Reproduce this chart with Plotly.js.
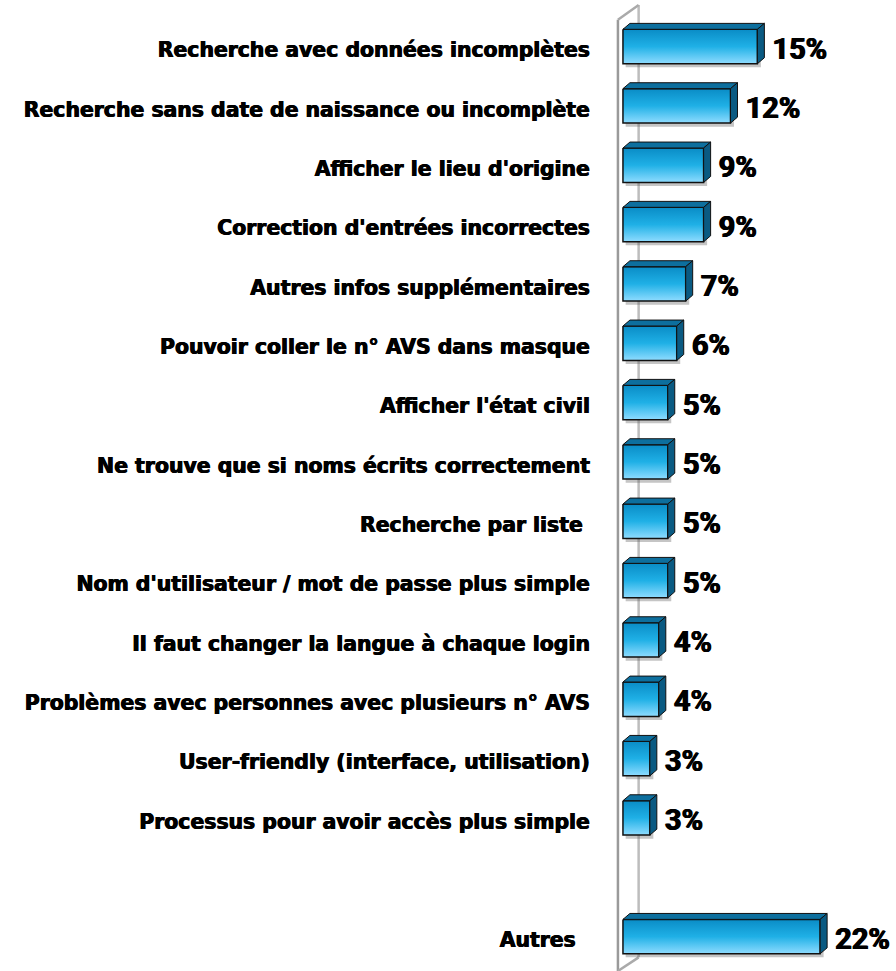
<!DOCTYPE html>
<html>
<head>
<meta charset="utf-8">
<script src="https://cdn.plot.ly/plotly-3.0.1.min.js"></script>
<style>html,body{margin:0;padding:0;background:#fff;}#chart{width:896px;height:971px;}</style>
</head>
<body>
<div id="chart"></div>
<script>
// ---- data ----
const categories = [
  "Recherche avec données incomplètes",
  "Recherche sans date de naissance ou incomplète",
  "Afficher le lieu d'origine",
  "Correction d'entrées incorrectes",
  "Autres infos supplémentaires",
  "Pouvoir coller le n° AVS dans masque",
  "Afficher l'état civil",
  "Ne trouve que si noms écrits correctement",
  "Recherche par liste",
  "Nom d'utilisateur / mot de passe plus simple",
  "Il faut changer la langue à chaque login",
  "Problèmes avec personnes avec plusieurs n° AVS",
  "User-friendly (interface, utilisation)",
  "Processus pour avoir accès plus simple",
  "Autres"
];
const values = [15, 12, 9, 9, 7, 6, 5, 5, 5, 5, 4, 4, 3, 3, 22];
const valueLabels = values.map(v => v + "%");

// ---- styling constants ----
const H = 0.29;     // half bar height (category units)
const DX = 0.78;    // 3D depth along x (value units)
const DY = 0.10;    // 3D depth along y (category units)
// row position: "Autres" is separated from the others by one empty row
const rows = categories.map((c, i) => (c === "Autres" ? i + 1 : i));

const traces = [];

// shadow
{
  const xs = [], ys = [];
  values.forEach((v, i) => {
    const y = rows[i];
    xs.push(0.3, v + DX * 0.5, v + DX * 0.5, 0.3, 0.3, null);
    ys.push(y - H + 0.06, y - H + 0.06, y + H + 0.06, y + H + 0.06, y - H + 0.06, null);
  });
  traces.push({type: "scatter", mode: "lines", x: xs, y: ys, fill: "toself",
    fillcolor: "rgba(90,90,90,0.35)", line: {width: 0}, hoverinfo: "skip", showlegend: false});
}

// front faces with vertical gradient
values.forEach((v, i) => {
  const y = rows[i];
  traces.push({
    type: "scatter", mode: "lines",
    x: [0, v, v, 0, 0],
    y: [y - H, y - H, y + H, y + H, y - H],
    fill: "toself",
    fillgradient: {type: "vertical", start: y - H, stop: y + H,
      colorscale: [[0, "#0a8cc6"], [0.5, "#1fb0e6"], [1, "#8fdcff"]]},
    line: {color: "#111", width: 1.5},
    hoverinfo: "skip", showlegend: false
  });
});

// top faces
{
  const xs = [], ys = [];
  values.forEach((v, i) => {
    const y = rows[i];
    xs.push(0, v, v + DX, DX, 0, null);
    ys.push(y - H, y - H, y - H - DY, y - H - DY, y - H, null);
  });
  traces.push({type: "scatter", mode: "lines", x: xs, y: ys, fill: "toself",
    fillcolor: "#0d6f9e", line: {color: "#111", width: 1}, hoverinfo: "skip", showlegend: false});
}
// side faces
{
  const xs = [], ys = [];
  values.forEach((v, i) => {
    const y = rows[i];
    xs.push(v, v + DX, v + DX, v, v, null);
    ys.push(y - H, y - H - DY, y + H - DY, y + H, y - H, null);
  });
  traces.push({type: "scatter", mode: "lines", x: xs, y: ys, fill: "toself",
    fillcolor: "#0a5a82", line: {color: "#111", width: 1}, hoverinfo: "skip", showlegend: false});
}

// value labels
traces.push({
  type: "scatter", mode: "text",
  x: values.map(v => v + DX + 0.9),
  y: rows.map(r => r + 0.08),
  text: valueLabels,
  textposition: "middle right",
  textfont: {family: "Roboto, 'Liberation Sans', sans-serif", size: 29, weight: "bold", color: "#000",
             shadow: "0.6px 0 0 #000, -0.6px 0 0 #000"},
  cliponaxis: false, hoverinfo: "skip", showlegend: false
});

const layout = {
  width: 896, height: 971,
  margin: {l: 614, r: 49, t: 0, b: 0},
  paper_bgcolor: "#fff", plot_bgcolor: "rgba(0,0,0,0)",
  showlegend: false,
  xaxis: {range: [-1, 25], showgrid: false, zeroline: false, showticklabels: false, showline: false, ticks: ""},
  yaxis: {
    range: [15.58, -0.784],
    tickmode: "array",
    tickvals: rows.map(r => r + 0.06),
    ticktext: categories.map(c => c === "Recherche par liste" ? c + "\u00a0" : (c === "Autres" ? c + "\u00a0\u00a0" : c)),
    ticks: "outside", ticklen: 19, tickcolor: "rgba(0,0,0,0)",
    showgrid: false, zeroline: false, showline: false,
    tickfont: {family: "'DejaVu Sans', sans-serif", size: 20.4, weight: "bold", color: "#000",
               shadow: "0.5px 0 0 #000, -0.5px 0 0 #000"}
  },
  shapes: [
    // back wall (3D plane) drawn behind the bars
    {type: "line", layer: "below", xref: "x", yref: "y", x0: -0.56, x1: -0.56, y0: -0.45, y1: 15.58, line: {color: "#9a9a9a", width: 2.5}},
    {type: "line", layer: "below", xref: "x", yref: "y", x0: 1.75, x1: 1.75, y0: -0.70, y1: 15.35, line: {color: "#bdbdbd", width: 2.5}},
    {type: "line", layer: "below", xref: "x", yref: "y", x0: -0.56, x1: 1.75, y0: -0.45, y1: -0.70, line: {color: "#aaaaaa", width: 2.5}},
    {type: "line", layer: "below", xref: "x", yref: "y", x0: -0.56, x1: 1.75, y0: 15.58, y1: 15.35, line: {color: "#aaaaaa", width: 2.5}}
  ]
};

Plotly.newPlot("chart", traces, layout, {staticPlot: true, displayModeBar: false});
</script>
</body>
</html>
